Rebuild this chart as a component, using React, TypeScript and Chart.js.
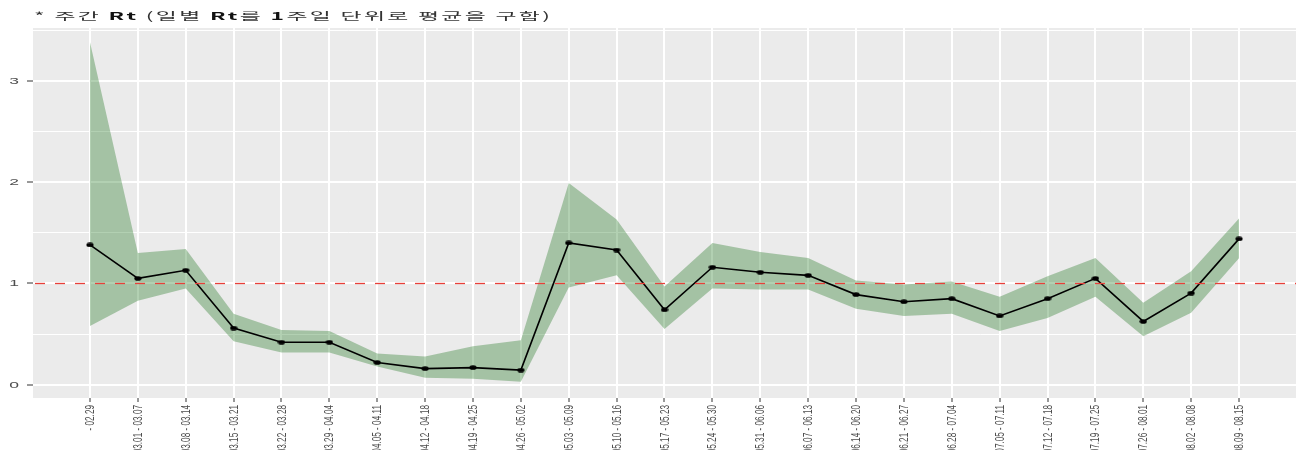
import React, { useEffect, useRef } from "react";
import { Chart, registerables } from "chart.js";

Chart.register(...registerables);

const categories: string[] = [
  "- 02.29", "03.01 - 03.07", "03.08 - 03.14", "03.15 - 03.21", "03.22 - 03.28",
  "03.29 - 04.04", "04.05 - 04.11", "04.12 - 04.18", "04.19 - 04.25", "04.26 - 05.02",
  "05.03 - 05.09", "05.10 - 05.16", "05.17 - 05.23", "05.24 - 05.30", "05.31 - 06.06",
  "06.07 - 06.13", "06.14 - 06.20", "06.21 - 06.27", "06.28 - 07.04", "07.05 - 07.11",
  "07.12 - 07.18", "07.19 - 07.25", "07.26 - 08.01", "08.02 - 08.08", "08.09 - 08.15",
];

const rtMean: number[] = [
  1.38, 1.05, 1.13, 0.56, 0.42, 0.42, 0.22, 0.16, 0.17, 0.145,
  1.40, 1.33, 0.74, 1.16, 1.11, 1.08, 0.89, 0.82, 0.85, 0.68,
  0.85, 1.05, 0.625, 0.905, 1.44,
];

const rtUpper: number[] = [
  3.38, 1.30, 1.34, 0.70, 0.54, 0.53, 0.31, 0.28, 0.38, 0.44,
  1.99, 1.63, 0.97, 1.40, 1.31, 1.25, 1.03, 0.99, 1.02, 0.87,
  1.07, 1.25, 0.81, 1.12, 1.64,
];

const rtLower: number[] = [
  0.58, 0.83, 0.95, 0.43, 0.32, 0.32, 0.18, 0.07, 0.06, 0.03,
  0.96, 1.08, 0.55, 0.95, 0.94, 0.94, 0.75, 0.68, 0.70, 0.53,
  0.66, 0.87, 0.48, 0.71, 1.25,
];

const yMajorTicks: number[] = [0, 1, 2, 3];
const yAllTicks: number[] = [0, 0.5, 1, 1.5, 2, 2.5, 3, 3.5];
const referenceLevel = 1;

const titleParts: { text: string; bold: boolean }[] = [
  { text: "* 주간 ", bold: false },
  { text: "Rt", bold: true },
  { text: " (일별 ", bold: false },
  { text: "Rt", bold: true },
  { text: "를 ", bold: false },
  { text: "1", bold: true },
  { text: "주일 단위로 평균을 구함)", bold: false },
];

function makeDot(): HTMLCanvasElement {
  const c = document.createElement("canvas");
  c.width = 8;
  c.height = 5;
  const g = c.getContext("2d")!;
  g.fillStyle = "#000";
  g.beginPath();
  g.ellipse(4, 2.5, 3.6, 2.3, 0, 0, Math.PI * 2);
  g.fill();
  return c;
}

export default function App() {
  const ref = useRef<HTMLCanvasElement | null>(null);
  const titleRef = useRef<HTMLDivElement | null>(null);

  useEffect(() => {
    document.body.style.margin = "0";
    const t = titleRef.current;
    if (t) {
      const w = t.scrollWidth;
      const sx = 519 / w;
      t.style.transform = `scale(${sx}, 0.72)`;
    }
    const canvas = ref.current;
    if (!canvas) return;
    const dot = makeDot();
    const toXY = (arr: number[]) => arr.map((v, i) => ({ x: i, y: v }));

    const panelBg = {
      id: "panelBg",
      beforeDraw(chart: any) {
        const { ctx, chartArea: a } = chart;
        ctx.save();
        ctx.fillStyle = "#EBEBEB";
        ctx.fillRect(a.left, a.top, a.right - a.left, a.bottom - a.top);
        ctx.restore();
      },
    };

    const refLine = {
      id: "refLine",
      afterDatasetsDraw(chart: any) {
        const { ctx, chartArea: a, scales } = chart;
        const y = Math.round(scales.y.getPixelForValue(referenceLevel)) + 0.5;
        ctx.save();
        ctx.strokeStyle = "#E8403A";
        ctx.lineWidth = 1.3;
        ctx.setLineDash([10, 10]);
        ctx.lineDashOffset = -2;
        ctx.beginPath();
        ctx.moveTo(a.left, y);
        ctx.lineTo(a.right, y);
        ctx.stroke();
        ctx.restore();
      },
    };

    // tick labels placed at the scales' own tick positions, drawn squeezed like the reference
    const axisLabels = {
      id: "axisLabels",
      afterDraw(chart: any) {
        const { ctx, chartArea: a, scales } = chart;
        ctx.save();
        ctx.fillStyle = "#4D4D4D";
        ctx.font = '13px "Liberation Sans", Arial, sans-serif';
        ctx.textAlign = "right";
        ctx.textBaseline = "middle";
        categories.forEach((lab, i) => {
          const x = scales.x.getPixelForValue(i);
          ctx.save();
          ctx.translate(x + 0.5, a.bottom + 7);
          ctx.rotate(-Math.PI / 2);
          ctx.scale(0.63, 1);
          ctx.fillText(lab, 0, 0);
          ctx.restore();
        });
        yMajorTicks.forEach((v) => {
          const y = scales.y.getPixelForValue(v);
          ctx.save();
          ctx.translate(19, y + 0.5);
          ctx.scale(1.35, 0.65);
          ctx.fillText(String(v), 0, 0);
          ctx.restore();
        });
        ctx.restore();
      },
    };

    const chart = new Chart(canvas, {
      type: "line",
      data: {
        datasets: [
          {
            label: "Rt",
            data: toXY(rtMean),
            borderColor: "#000",
            borderWidth: 1.6,
            pointStyle: dot as any,
            pointRadius: 3,
            fill: false,
            tension: 0,
          },
          {
            label: "upper",
            data: toXY(rtUpper),
            borderWidth: 0,
            borderColor: "rgba(0,0,0,0)",
            pointRadius: 0,
            backgroundColor: "rgba(0,100,0,0.3)",
            fill: "+1",
            tension: 0,
          },
          {
            label: "lower",
            data: toXY(rtLower),
            borderWidth: 0,
            borderColor: "rgba(0,0,0,0)",
            pointRadius: 0,
            fill: false,
            tension: 0,
          },
        ],
      },
      options: {
        animation: false,
        responsive: false,
        maintainAspectRatio: false,
        layout: { autoPadding: false, padding: { top: 28, right: 0, left: 0, bottom: 0 } },
        plugins: {
          legend: { display: false },
          tooltip: { enabled: false },
          title: { display: false },
        },
        scales: {
          x: {
            type: "linear",
            min: -1.19,
            max: 25.19,
            afterBuildTicks: (s: any) => {
              s.ticks = categories.map((_, i) => ({ value: i }));
            },
            afterFit: (s: any) => {
              s.height = 52;
              s.paddingLeft = 0;
              s.paddingRight = 0;
            },
            ticks: {
              display: false,
              autoSkip: false,
            },
            grid: {
              color: "#FFFFFF",
              lineWidth: 2,
              tickColor: "#333333",
              tickLength: 4,
              tickWidth: 1,
              drawTicks: true,
            },
            border: { display: false },
          },
          y: {
            type: "linear",
            min: -0.13,
            max: 3.52,
            afterBuildTicks: (s: any) => {
              s.ticks = yAllTicks.map((v) => ({ value: v }));
            },
            afterFit: (s: any) => {
              s.width = 33;
              s.paddingTop = 0;
              s.paddingBottom = 0;
            },
            ticks: {
              display: false,
            },
            grid: {
              color: "#FFFFFF",
              lineWidth: (c: any) => (yMajorTicks.includes(c.tick?.value) ? 2 : 1),
              tickColor: (c: any) => (yMajorTicks.includes(c.tick?.value) ? "#333333" : "rgba(0,0,0,0)"),
              tickLength: 6,
              tickWidth: 1,
              drawTicks: true,
            },
            border: { display: false },
          },
        },
      },
      plugins: [panelBg, refLine, axisLabels],
    } as any);

    return () => chart.destroy();
  }, []);

  return (
    <div style={{ position: "relative", width: 1296, height: 450, background: "#fff", overflow: "hidden" }}>
      <div
        ref={titleRef}
        style={{
          position: "absolute",
          left: 34,
          top: 8,
          transformOrigin: "0 50%",
          fontFamily: '"Noto Sans CJK KR", "Liberation Sans", sans-serif',
          fontSize: 15,
          lineHeight: "16px",
          letterSpacing: "1.5px",
          color: "#2b2b2b",
          whiteSpace: "pre",
          display: "inline-block",
        }}
      >
        {titleParts.map((p, i) => (
          <span key={i} style={{ fontWeight: p.bold ? 700 : 400, color: p.bold ? "#111" : "#333" }}>
            {p.text}
          </span>
        ))}
      </div>
      <canvas ref={ref} width={1296} height={450} style={{ display: "block" }} />
    </div>
  );
}
